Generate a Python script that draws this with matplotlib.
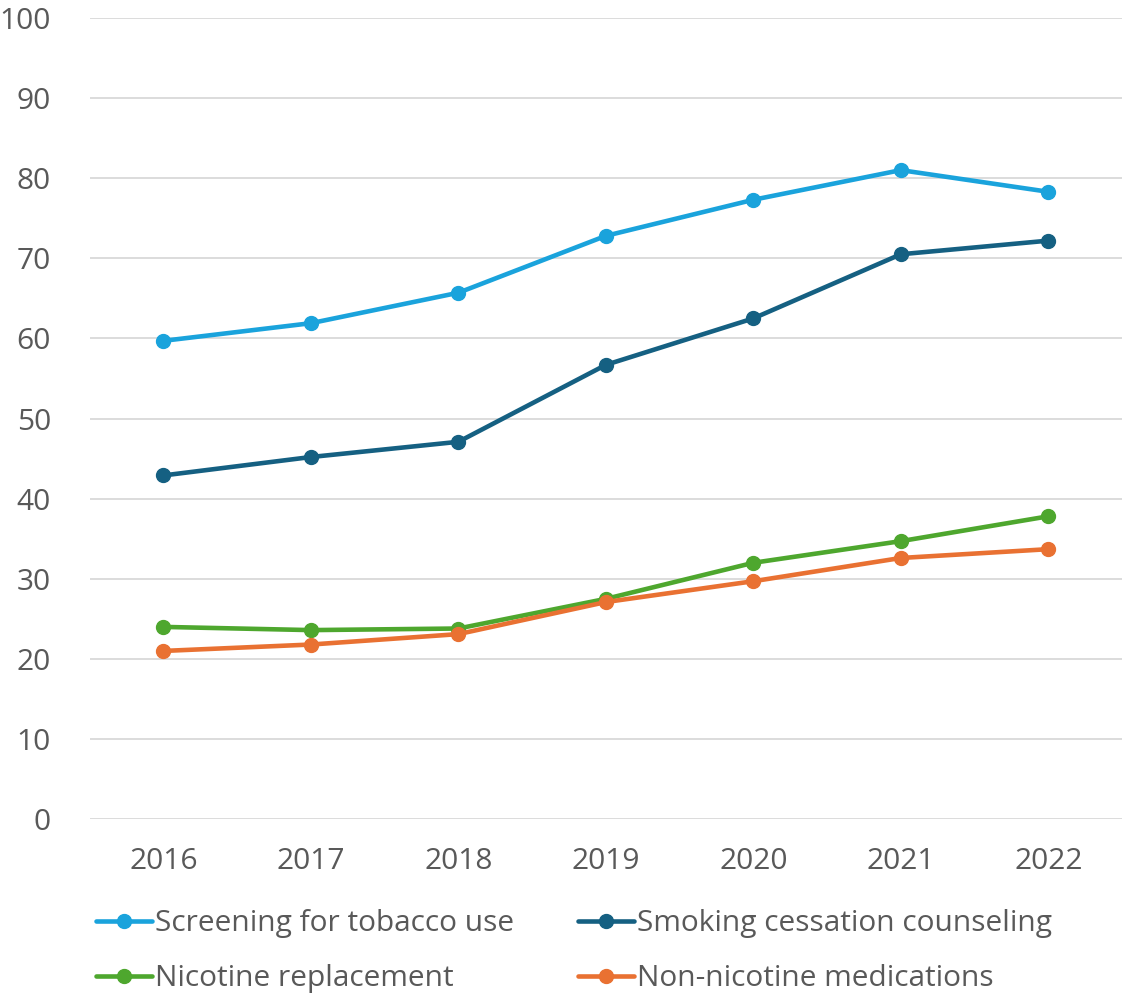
import matplotlib.pyplot as plt
from matplotlib.lines import Line2D

plt.rcParams['font.family'] = ['Open Sans', 'DejaVu Sans']

# ── DATA ─────────────────────────────────────────────────────────────────────
anos = ['2016', '2017', '2018', '2019', '2020', '2021', '2022']
triagem = [59.7, 61.9, 65.7, 72.8, 77.3, 81.0, 78.3]
aconselhamento = [42.9, 45.2, 47.1, 56.7, 62.5, 70.5, 72.2]
reposicao_nicotina = [24.0, 23.6, 23.8, 27.5, 32.0, 34.7, 37.8]
sem_nicotina = [21.0, 21.8, 23.1, 27.1, 29.7, 32.6, 33.7]

rotulos = ['Screening for tobacco use', 'Smoking cessation counseling',
           'Nicotine replacement', 'Non-nicotine medications']
cores = ['#1AA3DC', '#156082', '#4EA72E', '#E97132']
yticks = [0, 10, 20, 30, 40, 50, 60, 70, 80, 90, 100]

# ── PLOT ─────────────────────────────────────────────────────────────────────
fig = plt.figure(figsize=(11.22, 9.93), dpi=100)
ax = fig.add_axes([0.080, 0.175, 0.920, 0.807])

x = range(len(anos))
series = [triagem, aconselhamento, reposicao_nicotina, sem_nicotina]
for valores, cor, rot in zip(series, cores, rotulos):
    ax.plot(x, valores, color=cor, lw=3.3, marker='o', ms=10,
            solid_capstyle='round', label=rot, zorder=3)

ax.set_xlim(-0.5, len(anos) - 0.5)
ax.set_ylim(0, 100)
ax.set_xticks(list(x))
ax.set_xticklabels(anos)
ax.set_yticks(yticks)
ax.yaxis.grid(True, color='#D9D9D9', lw=1.3)
ax.set_axisbelow(True)
for s in ax.spines.values():
    s.set_visible(False)
ax.tick_params(length=0, labelsize=21.5, colors='#595959')
ax.tick_params(axis='x', pad=20)
ax.tick_params(axis='y', pad=28)

# legenda em duas colunas posicionadas manualmente
def handle(cor):
    return Line2D([], [], color=cor, lw=3.3, marker='o', ms=10,
                  solid_capstyle='round')

col_x = [96 / 1122, 578 / 1122]
for i, cx in enumerate(col_x):
    idx = [i, i + 2]
    fig.legend([handle(cores[j]) for j in idx], [rotulos[j] for j in idx],
               loc='upper left', bbox_to_anchor=(cx, 1 - 909 / 993),
               frameon=False, fontsize=21.5, handlelength=1.87,
               handletextpad=0.1, labelspacing=0.87, borderpad=0,
               borderaxespad=0, labelcolor='#595959')

plt.savefig('out.png', dpi=100)
